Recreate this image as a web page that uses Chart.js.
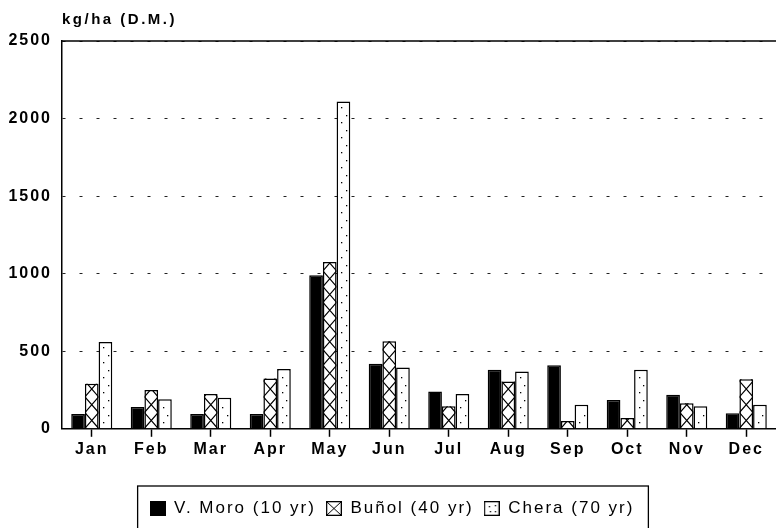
<!DOCTYPE html>
<html><head><meta charset="utf-8">
<script src="https://cdn.jsdelivr.net/npm/chart.js@4"></script>
<style>html,body{margin:0;padding:0;background:#fff}#wrap{width:776px;height:528px;position:relative}</style>
</head><body><div id="wrap"><canvas id="c"></canvas></div>
<script>
const months = ['Jan','Feb','Mar','Apr','May','Jun','Jul','Aug','Sep','Oct','Nov','Dec'];
const vMoro = [95, 140, 95, 95, 990, 420, 240, 380, 410, 185, 220, 100];
const bunol = [290, 250, 225, 325, 1075, 565, 145, 305, 50, 70, 165, 320];
const chera = [560, 190, 200, 385, 2110, 395, 225, 370, 155, 380, 145, 155];
const seriesNames = ['V. Moro (10 yr)', 'Buñol (40 yr)', 'Chera (70 yr)'];
const yMin = 0, yMax = 2500, yStep = 500;
const yTitle = 'kg/ha (D.M.)';

const FONT = '"Liberation Sans", Arial, Helvetica, sans-serif';

function makeSym(kind){
  const c = document.createElement('canvas');
  c.width = 16; c.height = 15;
  const g = c.getContext('2d');
  g.fillStyle = kind === 'solid' ? '#000' : '#fff';
  g.fillRect(0,0,16,15);
  g.strokeStyle = '#000'; g.lineWidth = 1.3;
  g.strokeRect(0.65,0.65,14.7,13.7);
  if (kind === 'cross'){
    g.beginPath(); g.moveTo(1,1); g.lineTo(15,14); g.moveTo(15,1); g.lineTo(1,14); g.lineWidth=1; g.stroke();
  } else if (kind === 'dots'){
    g.fillStyle = '#000';
    [[5,5],[11,4],[6,10],[11,10]].forEach(p=>g.fillRect(p[0],p[1],1.3,1.3));
  }
  return c;
}
const syms = [makeSym('solid'), makeSym('cross'), makeSym('dots')];

const spacingPlugin = {
  id: 'spacing',
  beforeUpdate(chart){ chart.ctx.letterSpacing = '2px'; },
  beforeLayout(chart){ chart.ctx.letterSpacing = '2px'; },
  beforeDraw(chart){ chart.ctx.letterSpacing = '2px'; }
};

const decoPlugin = {
  id: 'deco',
  afterDatasetDraw(chart, args){
    const ctx = chart.ctx;
    const meta = args.meta;
    if (args.index === 1){
      meta.data.forEach(bar => {
        const {x, y, base, width} = bar.getProps(['x','y','base','width'], true);
        const l = x - width/2, r = x + width/2;
        ctx.save();
        ctx.beginPath(); ctx.rect(l, y, width, base - y); ctx.clip();
        const h = width * 1.15;
        ctx.beginPath();
        for (let yy = base; yy > y - h; yy -= h){
          ctx.moveTo(l, yy); ctx.lineTo(r, yy - h);
          ctx.moveTo(r, yy); ctx.lineTo(l, yy - h);
        }
        ctx.lineWidth = 1.2; ctx.strokeStyle = '#000'; ctx.stroke();
        ctx.restore();
      });
    } else if (args.index === 2){
      meta.data.forEach(bar => {
        const {x, y, base, width} = bar.getProps(['x','y','base','width'], true);
        const l = x - width/2;
        ctx.save();
        ctx.fillStyle = '#000';
        let k = 0;
        for (let yy = base - 6; yy > y + 3; yy -= 7.5){
          const xx = l + (k % 2 === 0 ? width*0.33 : width*0.68);
          ctx.fillRect(Math.round(xx), Math.round(yy), 1.3, 1.3);
          k++;
        }
        ctx.restore();
      });
    }
  },
  beforeDatasetsDraw(chart){
    const {ctx, chartArea} = chart;
    ctx.save();
    ctx.strokeStyle = '#000'; ctx.lineWidth = 1.5;
    ctx.beginPath(); ctx.moveTo(chartArea.left, chartArea.top); ctx.lineTo(chartArea.right, chartArea.top); ctx.stroke();
    ctx.restore();
  },
  afterDraw(chart){
    const {ctx, chartArea, legend} = chart;
    ctx.save();
    ctx.letterSpacing = '2.5px';
    ctx.fillStyle = '#000';
    ctx.font = 'bold 15px ' + FONT;
    ctx.textAlign = 'left'; ctx.textBaseline = 'middle';
    ctx.fillText(yTitle, chartArea.left, 20);
    if (legend && legend.legendHitBoxes && legend.legendHitBoxes.length){
      const hb = legend.legendHitBoxes;
      const first = hb[0], last = hb[hb.length-1];
      const l = first.left - 12, r = last.left + last.width + 14;
      const t = first.top - 14;
      ctx.strokeStyle = '#000'; ctx.lineWidth = 1.3;
      ctx.strokeRect(l, t, r - l, 560 - t);
    }
    ctx.restore();
  }
};

new Chart(document.getElementById('c'), {
  type: 'bar',
  data: {
    labels: months,
    datasets: [
      {label: seriesNames[0], data: vMoro, backgroundColor: '#000', borderColor: '#000', borderWidth: 1.5},
      {label: seriesNames[1], data: bunol, backgroundColor: '#fff', borderColor: '#000', borderWidth: 1.5},
      {label: seriesNames[2], data: chera, backgroundColor: '#fff', borderColor: '#000', borderWidth: 1.5}
    ]
  },
  options: {
    responsive: true,
    maintainAspectRatio: false,
    animation: false,
    devicePixelRatio: 1,
    datasets: {bar: {barPercentage: 1, categoryPercentage: 0.69}},
    layout: {padding: {top: 41, left: 8, right: 0, bottom: 1}},
    plugins: {
      tooltip: {enabled: false},
      title: {display: false},
      legend: {
        position: 'bottom',
        labels: {
          usePointStyle: true,
          boxWidth: 16, boxHeight: 15,
          padding: 10,
          color: '#000',
          font: {family: FONT, size: 17, weight: 'normal'},
          generateLabels(chart){
            const items = Chart.defaults.plugins.legend.labels.generateLabels(chart);
            items.forEach((it, i) => { it.pointStyle = syms[i]; });
            return items;
          }
        }
      }
    },
    scales: {
      x: {
        grid: {display: true, drawOnChartArea: false, drawTicks: true, tickLength: 8, tickColor: '#000', tickWidth: 1.5, offset: false},
        border: {display: true, color: '#000', width: 1.5},
        ticks: {color: '#000', font: {family: FONT, size: 16, weight: 'bold'}, padding: 3, maxRotation: 0},
        afterFit(scale){ scale.height += 28; }
      },
      y: {
        min: yMin, max: yMax,
        ticks: {stepSize: yStep, color: '#000', font: {family: FONT, size: 16, weight: 'bold'}, padding: 10,
                callback: v => String(v)},
        grid: {color: '#222', lineWidth: 1, drawTicks: false},
        border: {display: true, color: '#000', width: 1.5, dash: [3, 14]},
        afterFit(scale){ scale.width = 54; }
      }
    }
  },
  plugins: [spacingPlugin, decoPlugin]
});
</script>
</body></html>
